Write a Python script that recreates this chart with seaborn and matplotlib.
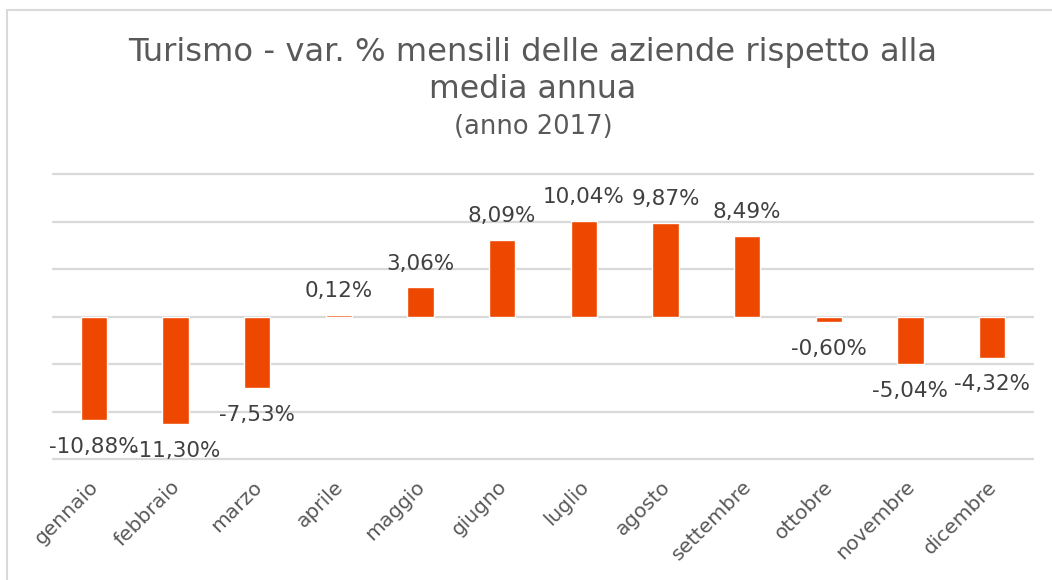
import matplotlib
matplotlib.use("Agg")
import matplotlib.pyplot as plt
import matplotlib.transforms as mtrans
import seaborn as sns
import pandas as pd
from matplotlib.patches import Rectangle

months = ["gennaio", "febbraio", "marzo", "aprile", "maggio", "giugno",
          "luglio", "agosto", "settembre", "ottobre", "novembre", "dicembre"]
values = [-10.88, -11.30, -7.53, 0.12, 3.06, 8.09,
          10.04, 9.87, 8.49, -0.60, -5.04, -4.32]
grid_ticks = [-15, -10, -5, 0, 5, 10, 15]

sns.set_theme(style="white")
plt.rcParams['font.family'] = ['DejaVu Sans']

text_col = "#595959"
bar_col = "#EE4700"

fig = plt.figure(figsize=(10.52, 5.80), dpi=100)
ax = fig.add_axes([53/1052, 1 - 459/580, (1033-53)/1052, (459-174)/580])

df = pd.DataFrame({"mese": months, "var": values})
sns.barplot(data=df, x="mese", y="var", color=bar_col, width=0.32,
            saturation=1, ax=ax, order=months)

ax.set_ylim(-15, 15)
ax.set_xlim(-0.5, 11.5)
ax.set_yticks(grid_ticks)
ax.set_yticklabels([])
ax.yaxis.grid(True, color="#d9d9d9", linewidth=1.6)
for gl in ax.get_ygridlines():
    gl.set_clip_on(False)
ax.set_axisbelow(True)
for s in ax.spines.values():
    s.set_visible(False)
ax.tick_params(axis="both", length=0)
ax.set_xlabel("")
ax.set_ylabel("")
ax.set_xticks(range(len(months)))
ax.set_xticklabels(months, rotation=45, ha="right", va="top",
                   rotation_mode="anchor", fontsize=14.5, color=text_col)
ax.tick_params(axis="x", pad=13)
offset = mtrans.ScaledTranslation(-5/100, 0, fig.dpi_scale_trans)
for lbl in ax.get_xticklabels():
    lbl.set_transform(lbl.get_transform() + offset)

for i, v in enumerate(values):
    lab = f"{v:.2f}".replace(".", ",") + "%"
    if v >= 0:
        ax.annotate(lab, (i, v), xytext=(0, 10), textcoords="offset points",
                    ha="center", va="bottom", fontsize=15.5, color="#404040")
    else:
        ax.annotate(lab, (i, v), xytext=(0, -12), textcoords="offset points",
                    ha="center", va="top", fontsize=15.5, color="#404040")

fig.text(533/1052, 1 - 52/580, "Turismo - var. % mensili delle aziende rispetto alla",
         ha="center", va="center", fontsize=23.2, color=text_col)
fig.text(533/1052, 1 - 90/580, "media annua",
         ha="center", va="center", fontsize=22.8, color=text_col)
fig.text(533/1052, 1 - 127/580, "(anno 2017)",
         ha="center", va="center", fontsize=18.5, color=text_col)

fig.patches.append(Rectangle((7/1052, -0.05), 1.2, 1 - 10/580 + 0.05,
                             transform=fig.transFigure, fill=False,
                             edgecolor="#d9d9d9", linewidth=1.5))

fig.savefig("out.png", dpi=100, facecolor="white")
